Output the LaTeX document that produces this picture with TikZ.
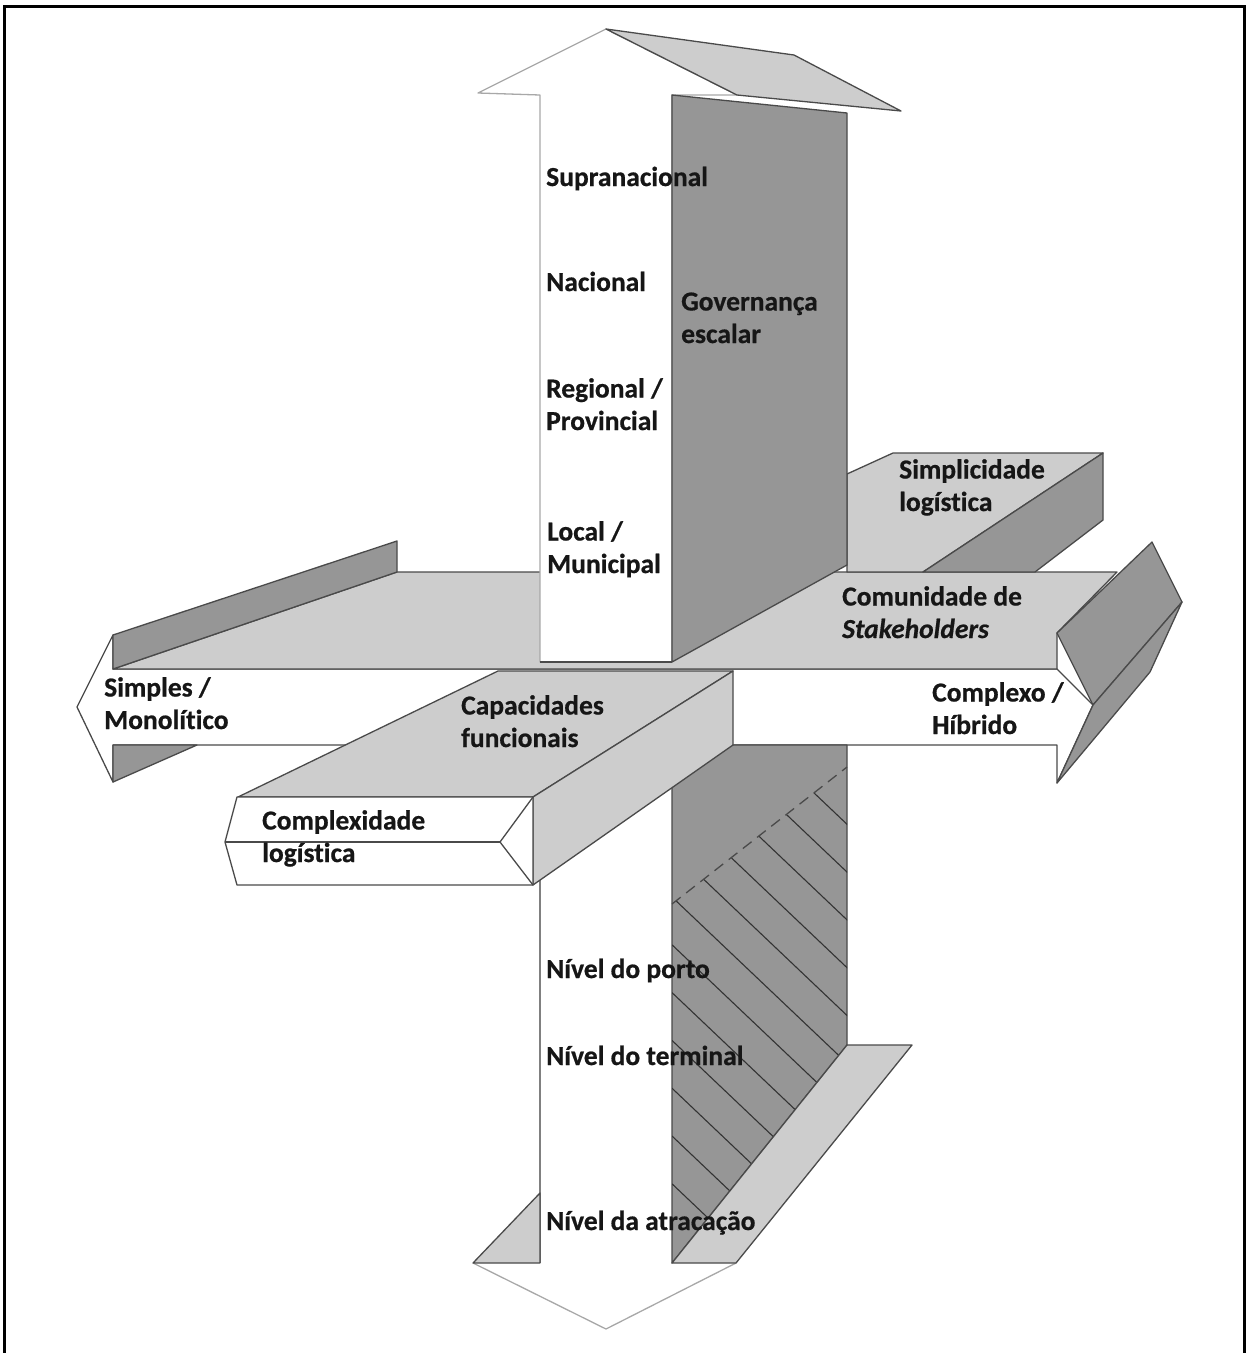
\documentclass[tikz,border=0pt]{standalone}
\usepackage{fontspec}
\setmainfont{Carlito}[RawFeature=-liga, BoldFeatures={FakeBold=0.6}, BoldItalicFeatures={FakeBold=0.6}]
\begin{document}
\definecolor{facelight}{HTML}{CDCDCD}
\definecolor{facedark}{HTML}{969696}
\definecolor{edgecol}{HTML}{4A4A4A}
\definecolor{rimcol}{HTML}{A8A8A8}
\definecolor{txtcol}{HTML}{161616}
\tikzset{
  lbl/.style={font=\bfseries\fontsize{27.5}{32.5}\selectfont, anchor=base west,
    align=left, inner sep=0pt, text=txtcol},
  edge/.style={draw=edgecol, line width=1.3pt, line join=round},
  lightface/.style={edge, fill=facelight},
  darkface/.style={edge, fill=facedark},
  whiteface/.style={edge, fill=white},
  rim/.style={draw=rimcol, line width=1.3pt, line join=round},
  hatchline/.style={draw=black!80, line width=1.1pt},
}
\begin{tikzpicture}[x=1pt,y=-1pt]
\useasboundingbox (0,0) rectangle (1248,1353);
% outer frame
\draw[black, line width=3pt] (4,1360) -- (4,6) -- (1244,6) -- (1244,1360);

% horizontal double arrow (structure: simple <-> complex)
\draw[whiteface] (77,707) -- (113,635) -- (113,669) -- (1057,669) -- (1093,705)
  -- (1057,783) -- (1057,745) -- (113,745) -- (113,782) -- cycle;
\draw[lightface] (113,669) -- (397,572) -- (1117,572) -- (1057,633) -- (1057,669) -- cycle;
\draw[darkface] (113,635) -- (397,541) -- (397,572) -- (113,669) -- cycle;
\draw[darkface] (113,745) -- (197,745) -- (113,782) -- cycle;
\draw[darkface] (1057,633) -- (1152,542) -- (1182,602) -- (1093,705) -- cycle;
\draw[darkface] (1093,705) -- (1182,602) -- (1150,672) -- (1057,783) -- cycle;

% logistic simplicity block
\draw[lightface] (847,474) -- (893,453) -- (1103,453) -- (923,572) -- (847,572) -- cycle;
\draw[darkface] (1103,453) -- (1103,520) -- (1035,572) -- (923,572) -- cycle;

% upward arrow (scalar governance)
\draw[rim, fill=white] (606,29) -- (478,93) -- (540,95) -- (540,662) -- (672,662)
  -- (672,95) -- (737,95) -- cycle;
\draw[edge] (540,662) -- (672,662);
\draw[lightface] (606,29) -- (794,55) -- (901,111) -- (737,95) -- cycle;
\draw[darkface] (672,95) -- (847,113) -- (847,565) -- (672,662) -- cycle;

% downward arrow (port levels)
\fill[white] (540,850) -- (672,780) -- (672,1263) -- (736,1263) -- (606,1329)
  -- (473,1263) -- (540,1263) -- cycle;
\draw[rim] (473,1263) -- (606,1329) -- (736,1263);
\draw[edge, draw=black!50] (540,880) -- (540,1263);
\draw[lightface] (473,1263) -- (540,1193) -- (540,1263) -- cycle;
\draw[darkface] (672,745) -- (847,745) -- (847,1045) -- (672,1263) -- cycle;
\begin{scope}
  \clip (672,904) -- (847,767) -- (847,1045) -- (672,1263) -- cycle;
  \foreach \k in {0,...,11}
    \draw[hatchline] (672,{658+47.8*\k}) -- (1072,{658+47.8*\k+380});
\end{scope}
\draw[edge, dash pattern=on 11pt off 7pt] (672,904) -- (847,767);
\draw[lightface] (672,1263) -- (736,1263) -- (912,1045) -- (847,1045) -- cycle;

% functional capabilities block
\draw[lightface] (238,797) -- (498,671) -- (733,671) -- (533,797) -- cycle;
\draw[lightface] (533,797) -- (733,671) -- (733,745) -- (533,885) -- cycle;
\draw[whiteface] (237,797) -- (533,797) -- (533,885) -- (237,885) -- (225,842) -- cycle;
\draw[edge] (533,797) -- (500,842) -- (533,885);
\draw[edge] (225,842) -- (500,842);

% labels (anchor: baseline of the last line)
\node[lbl] (sup)   at (546,186) {Supranacional};
\node[lbl] (nac)   at (546,291) {Nacional};
\node[lbl] (gov)   at (681,343) {Governança\\escalar};
\node[lbl] (reg)   at (546,430) {Regional /\\Provincial};
\node[lbl] (loc)   at (547,573) {Local /\\Municipal};
\node[lbl] (simp)  at (899,511) {Simplicidade\\logística};
\node[lbl] (com)   at (842,638) {Comunidade de\\\textit{Stakeholders}};
\node[lbl] (sim)   at (104,729) {Simples /\\Monolítico};
\node[lbl] (cap)   at (461,747) {Capacidades\\funcionais};
\node[lbl] (cpx)   at (932,734) {Complexo /\\Híbrido};
\node[lbl] (cxl)   at (262,862) {Complexidade\\logística};
\node[lbl] (porto) at (546,978) {Nível do porto};
\node[lbl] (term)  at (546,1065) {Nível do terminal};
\node[lbl] (atr)   at (546,1230) {Nível da atracação};
\end{tikzpicture}
\end{document}
